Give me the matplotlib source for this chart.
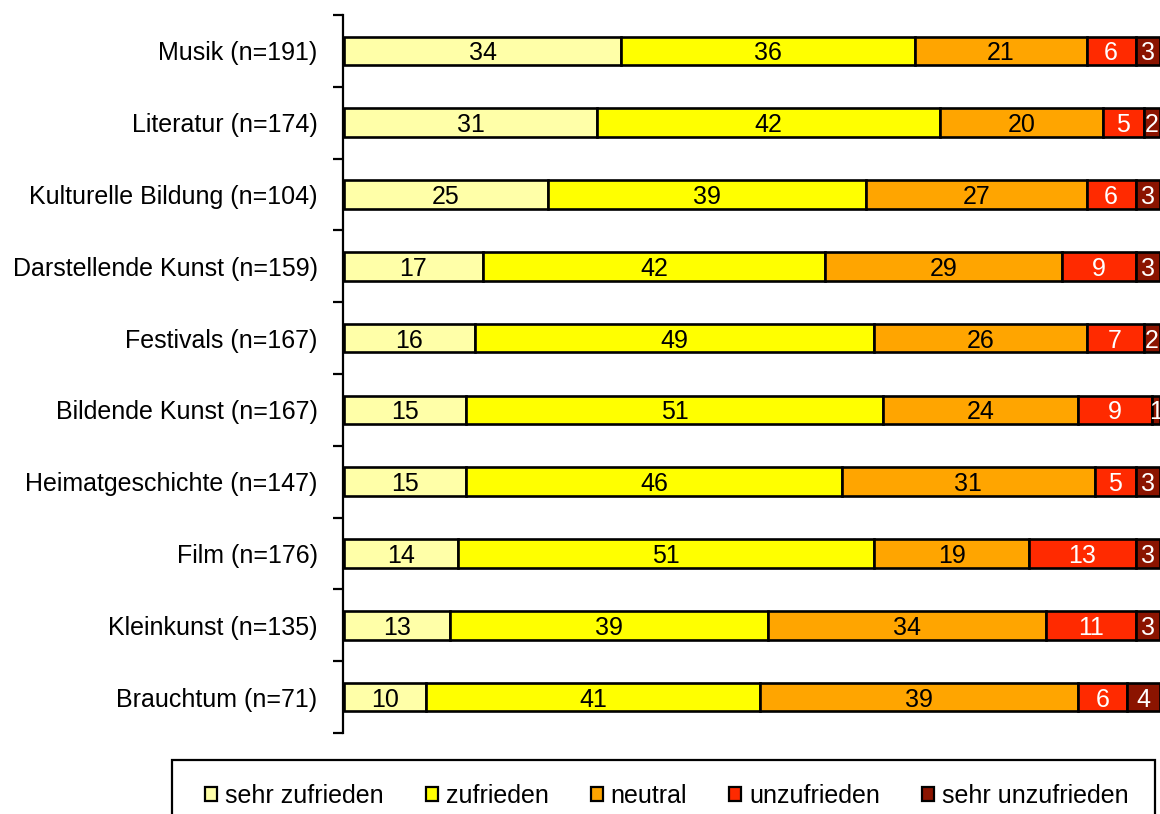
import matplotlib
matplotlib.use("Agg")
import matplotlib.pyplot as plt
from matplotlib.patches import Rectangle, Patch
from matplotlib.ticker import FixedLocator, NullLocator

plt.rcParams['font.family'] = ['Liberation Sans', 'DejaVu Sans']

categories = [
    "Musik (n=191)", "Literatur (n=174)", "Kulturelle Bildung (n=104)",
    "Darstellende Kunst (n=159)", "Festivals (n=167)", "Bildende Kunst (n=167)",
    "Heimatgeschichte (n=147)", "Film (n=176)", "Kleinkunst (n=135)",
    "Brauchtum (n=71)",
]
series_names = ["sehr zufrieden", "zufrieden", "neutral", "unzufrieden", "sehr unzufrieden"]
sehr_zufrieden = [34, 31, 25, 17, 16, 15, 15, 14, 13, 10]
zufrieden = [36, 42, 39, 42, 49, 51, 46, 51, 39, 41]
neutral = [21, 20, 27, 29, 26, 24, 31, 19, 34, 39]
unzufrieden = [6, 5, 6, 9, 7, 9, 5, 13, 11, 6]
sehr_unzufrieden = [3, 2, 3, 3, 2, 1, 3, 3, 3, 4]

series = [sehr_zufrieden, zufrieden, neutral, unzufrieden, sehr_unzufrieden]
colors = ["#FFFFA8", "#FFFF00", "#FFA500", "#FF2A00", "#8B1400"]
text_colors = ["black", "black", "black", "white", "white"]

W, H = 1160, 814
fig = plt.figure(figsize=(W / 100, H / 100), dpi=100)
ax = fig.add_axes([344 / W, 1 - 733 / H, 1 - 344 / W, (733 - 15) / H])

n = len(categories)
ypos = list(range(n))
left = [0] * n
for vals, col, tcol in zip(series, colors, text_colors):
    ax.barh(ypos, vals, left=left, height=0.4, color=col,
            edgecolor="black", linewidth=1.9, zorder=2)
    for y, l, v in zip(ypos, left, vals):
        ax.text(l + v / 2, y, str(v), ha="center", va="center_baseline",
                fontsize=18, color=tcol, zorder=3)
    left = [a + b for a, b in zip(left, vals)]

ax.set_xlim(0, 100)
ax.set_ylim(n - 0.5, -0.5)
ax.set_yticks(ypos)
ax.set_yticklabels(categories)
ax.yaxis.set_minor_locator(FixedLocator([i - 0.5 for i in range(n + 1)]))
ax.tick_params(axis="y", which="major", length=0, pad=18, labelsize=18)
ax.tick_params(axis="y", which="minor", length=7, width=1.6, direction="out")
ax.xaxis.set_major_locator(NullLocator())
for s in ["top", "right", "bottom"]:
    ax.spines[s].set_visible(False)
ax.spines["left"].set_linewidth(1.6)
ax.spines["left"].set_position(("outward", 1))

# legend frame and entries below the plot
fig.patches.append(Rectangle((172 / W, 1 - 840 / H), (1155 - 172) / W, 80 / H,
                             transform=fig.transFigure, fill=False,
                             edgecolor="black", linewidth=1.6))
handles = [Patch(facecolor=c, edgecolor="black", linewidth=1.6) for c in colors]
fig.legend(handles, series_names, loc="center", ncol=5,
           bbox_to_anchor=(667 / W, 1 - 796 / H), frameon=False, fontsize=18,
           handlelength=0.48, handleheight=0.48, handletextpad=0.32,
           columnspacing=1.68, borderaxespad=0)

fig.savefig("out.png", dpi=100)
